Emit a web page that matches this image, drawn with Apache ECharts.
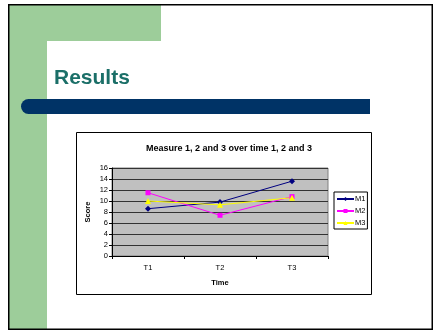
<!DOCTYPE html>
<html>
<head>
<meta charset="utf-8">
<script src="https://cdn.jsdelivr.net/npm/echarts@6/dist/echarts.min.js"></script>
<style>
html,body{margin:0;padding:0;background:#fff;}
#c{width:436px;height:331px;}
</style>
</head>
<body>
<div id="c"></div>
<script>
var categories = ['T1', 'T2', 'T3'];
var seriesNames = ['M1', 'M2', 'M3'];
var m1 = [8.6, 9.8, 13.6];
var m2 = [11.5, 7.4, 10.8];
var m3 = [10.0, 9.3, 10.6];
var yTicks = [0, 2, 4, 6, 8, 10, 12, 14, 16];

var chart = echarts.init(document.getElementById('c'), null, {renderer: 'canvas'});
var font = 'Liberation Sans, Arial, sans-serif';

var option = {
  animation: false,
  backgroundColor: '#ffffff',
  graphic: {
    z: -10,
    elements: [
      {type: 'rect', shape: {x: 9, y: 5, width: 38, height: 324}, style: {fill: '#9dcd9a'}, z: -10},
      {type: 'rect', shape: {x: 9, y: 5, width: 152, height: 36}, style: {fill: '#9dcd9a'}, z: -10},
      {type: 'rect', shape: {x: 47, y: 41, width: 384, height: 288, r: [6, 0, 0, 0]}, style: {fill: '#ffffff'}, z: -9},
      {type: 'rect', shape: {x: 21, y: 99, width: 349, height: 15, r: [7.5, 0, 0, 7.5]}, style: {fill: '#003366'}, z: -8},
      {type: 'text', x: 54, y: 78.5, style: {text: 'Results', fill: '#1b6f68', font: 'bold 21px ' + font, verticalAlign: 'middle', align: 'left'}, z: -8},
      {type: 'rect', shape: {x: 76.5, y: 132.5, width: 295, height: 162}, style: {fill: '#ffffff', stroke: '#000000', lineWidth: 1}, z: -8},
      {type: 'rect', shape: {x: 8.75, y: 4.75, width: 423.5, height: 324.5}, style: {fill: 'none', stroke: '#000000', lineWidth: 1.5}, z: -7}
    ]
  },
  title: {
    text: 'Measure 1, 2 and 3 over time 1, 2 and 3',
    left: 224, top: 139, textAlign: 'center',
    textStyle: {fontFamily: font, fontSize: 9, fontWeight: 'bold', color: '#000'}
  },
  legend: {
    orient: 'vertical',
    left: 334, top: 192,
    data: seriesNames,
    backgroundColor: '#fff',
    borderColor: '#000', borderWidth: 1,
    padding: [3, 2, 2, 2],
    itemWidth: 17, itemHeight: 5, itemGap: 4,
    textStyle: {fontFamily: font, fontSize: 7.5, color: '#000', padding: [0, 0, 0, -4]}
  },
  grid: {
    left: 112, top: 168, width: 216, height: 88,
    show: true, backgroundColor: '#c0c0c0', borderColor: '#808080', borderWidth: 1,
    containLabel: false
  },
  xAxis: {
    type: 'category', data: categories, boundaryGap: true,
    name: 'Time', nameLocation: 'middle', nameGap: 23,
    nameTextStyle: {fontFamily: font, fontSize: 7.5, fontWeight: 'bold', color: '#000'},
    axisLine: {lineStyle: {color: '#000', width: 1}},
    axisTick: {show: true, length: 3, inside: false, lineStyle: {color: '#000'}},
    axisLabel: {fontFamily: font, fontSize: 7.5, color: '#000', margin: 8}
  },
  yAxis: {
    type: 'value', min: 0, max: 16, interval: 2,
    name: 'Score', nameLocation: 'middle', nameGap: 20, nameRotate: 90,
    nameTextStyle: {fontFamily: font, fontSize: 7.5, fontWeight: 'bold', color: '#000'},
    axisLine: {show: true, lineStyle: {color: '#000', width: 1}},
    axisTick: {show: true, length: 3, lineStyle: {color: '#000'}},
    axisLabel: {fontFamily: font, fontSize: 7.5, color: '#000', margin: 4,
      formatter: function (v) { return yTicks.indexOf(v) >= 0 ? String(v) : ''; }},
    splitLine: {show: true, lineStyle: {color: '#333333', width: 1}}
  },
  series: [
    {name: seriesNames[0], type: 'line', data: m1, symbol: 'diamond', symbolSize: 6,
      itemStyle: {color: '#000080'}, lineStyle: {color: '#000080', width: 1}},
    {name: seriesNames[1], type: 'line', data: m2, symbol: 'rect', symbolSize: 5,
      itemStyle: {color: '#ff00ff'}, lineStyle: {color: '#ff00ff', width: 1}},
    {name: seriesNames[2], type: 'line', data: m3, symbol: 'triangle', symbolSize: 6,
      itemStyle: {color: '#ffff00'}, lineStyle: {color: '#ffff00', width: 1}}
  ]
};
chart.setOption(option);
</script>
</body>
</html>
